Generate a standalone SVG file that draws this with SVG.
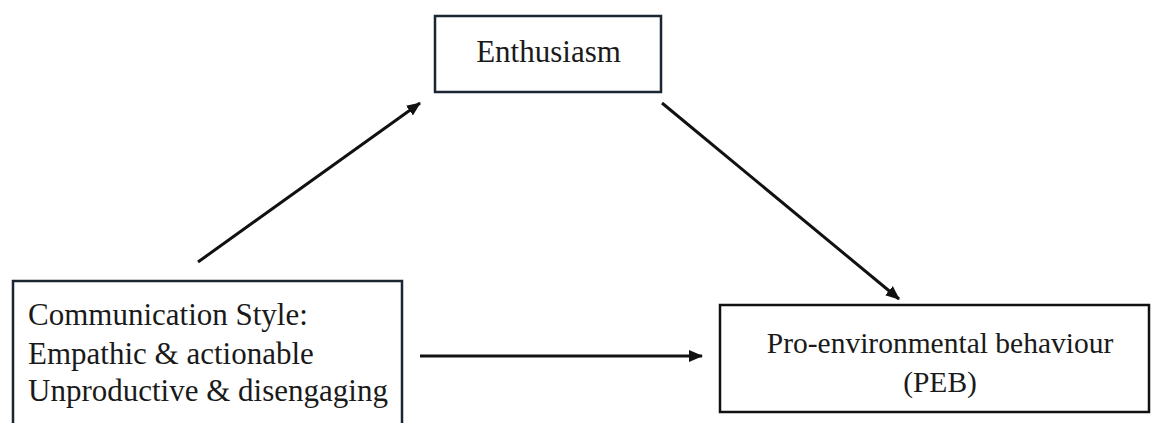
<svg xmlns="http://www.w3.org/2000/svg" width="1151" height="423" viewBox="0 0 1151 423">
<style>
.box{fill:#fff;stroke:#1b2633;stroke-width:2.5}
.lbl{font-family:"Liberation Serif","Times New Roman",serif;fill:#1a1a1a}
.conn{stroke:#111;stroke-width:3;fill:none;marker-end:url(#ah)}
</style>
<defs>
<marker id="ah" markerUnits="userSpaceOnUse" markerWidth="14" markerHeight="12" refX="13" refY="6" orient="auto">
<path d="M0,0 L14,6 L0,12 Z" fill="#111"/>
</marker>
</defs>
<rect width="1151" height="423" fill="#fff"/>
<g id="node-enthusiasm">
<rect class="box" x="435" y="16" width="226" height="76"/>
<text class="lbl" x="548.5" y="62" font-size="31" text-anchor="middle">Enthusiasm</text>
</g>
<g id="node-communication">
<rect class="box" x="13" y="281" width="389" height="160"/>
<text class="lbl" x="28" y="325" font-size="31">Communication Style:</text>
<text class="lbl" x="28" y="364" font-size="31">Empathic &amp; actionable</text>
<text class="lbl" x="28" y="401" font-size="31">Unproductive &amp; disengaging</text>
</g>
<g id="node-peb">
<rect class="box" x="720" y="305" width="429" height="107" style="stroke:#111"/>
<text class="lbl" x="940" y="353" font-size="29.5" text-anchor="middle">Pro-environmental behaviour</text>
<text class="lbl" x="940" y="392" font-size="29.5" text-anchor="middle">(PEB)</text>
</g>
<g id="connectors">
<line class="conn" x1="198" y1="262" x2="420" y2="103"/>
<line class="conn" x1="662" y1="103" x2="899" y2="299"/>
<line class="conn" x1="420" y1="356" x2="702" y2="356"/>
</g>
</svg>
